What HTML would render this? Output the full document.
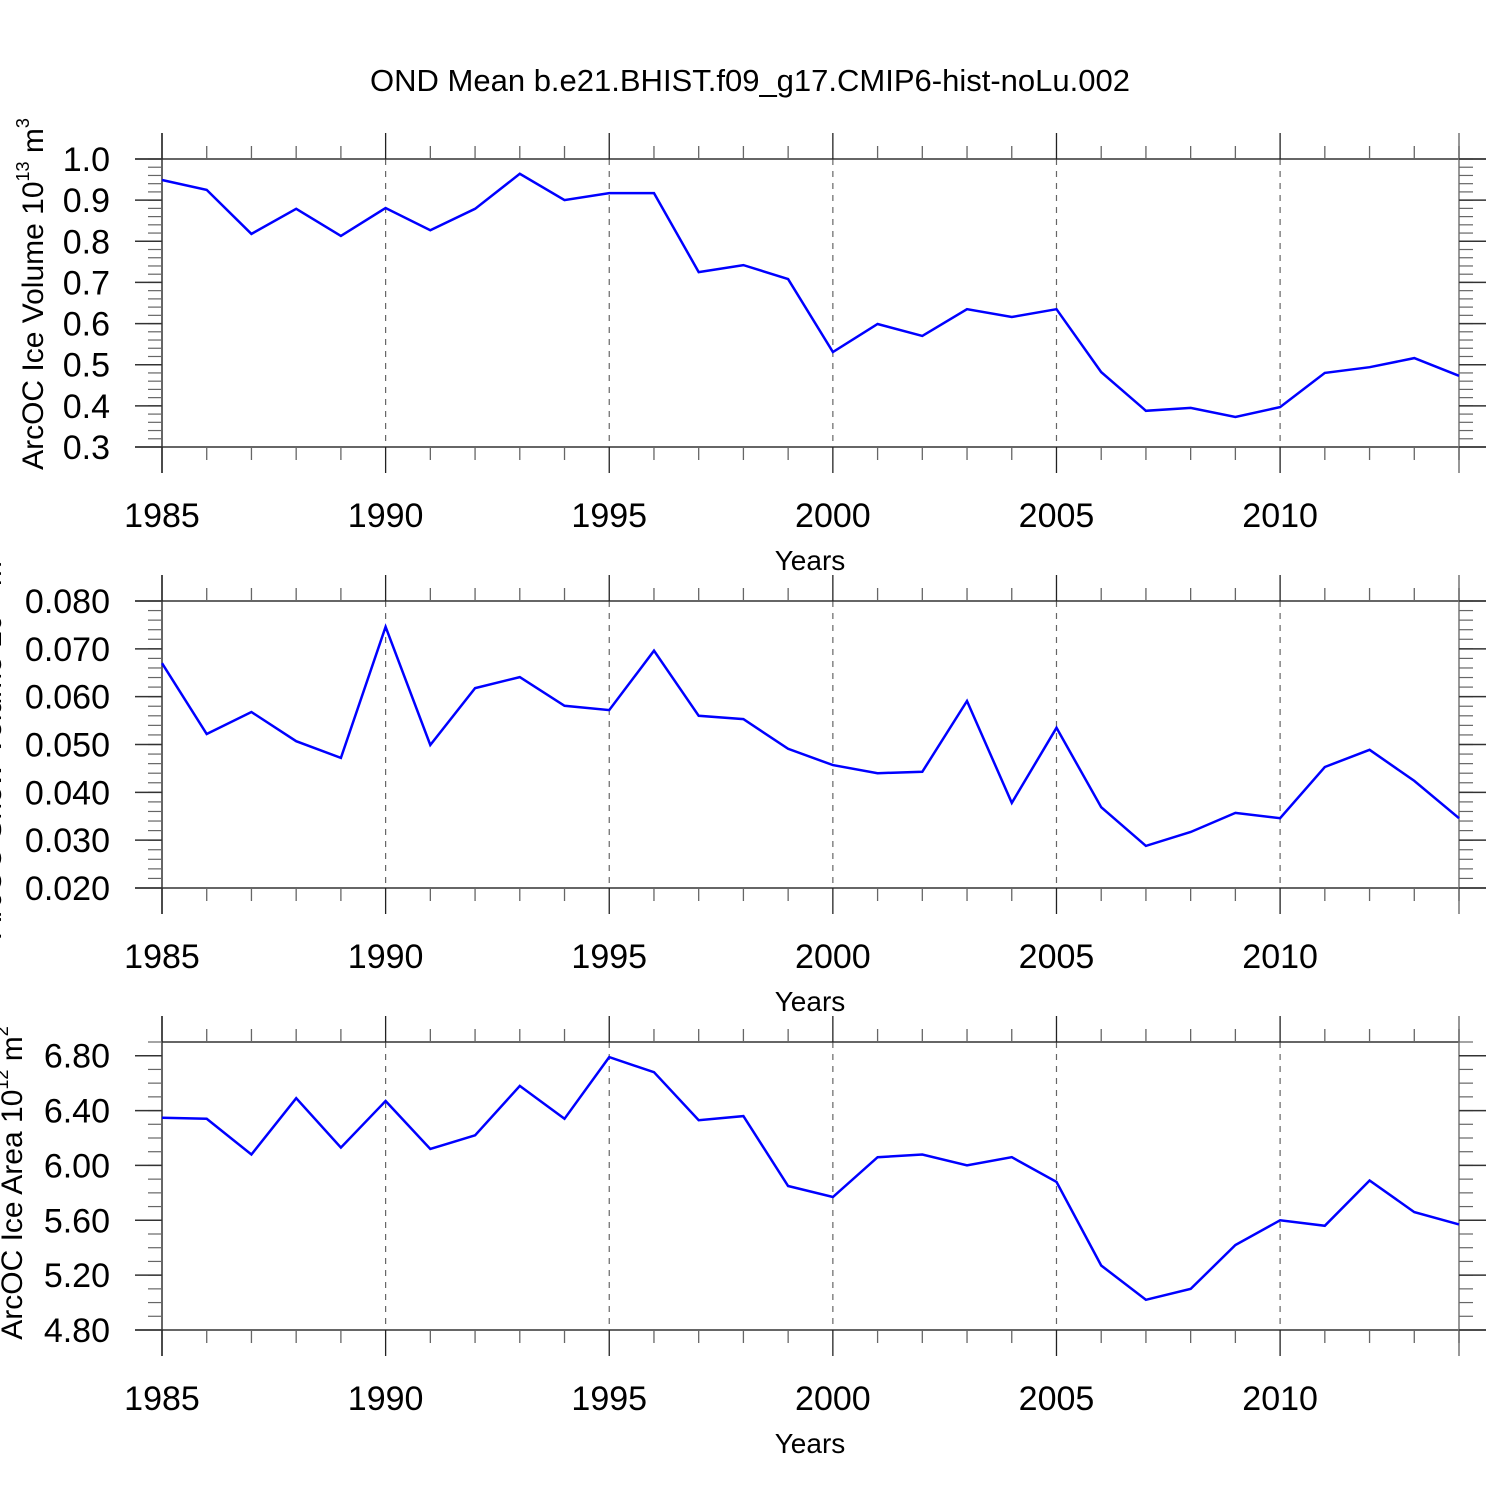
<!DOCTYPE html>
<html><head><meta charset="utf-8"><style>
html,body{margin:0;padding:0;background:#fff;}
svg{display:block;font-family:"Liberation Sans",sans-serif;}
</style></head><body>
<svg id="chart" width="1500" height="1500" viewBox="0 0 1500 1500" xmlns="http://www.w3.org/2000/svg">
<text x="750" y="91" font-size="31" text-anchor="middle">OND Mean b.e21.BHIST.f09_g17.CMIP6-hist-noLu.002</text>
</svg>
<script>
const years = [1985,1986,1987,1988,1989,1990,1991,1992,1993,1994,1995,1996,1997,1998,1999,2000,2001,2002,2003,2004,2005,2006,2007,2008,2009,2010,2011,2012,2013,2014];
const iceVolume = [0.949,0.925,0.818,0.879,0.813,0.881,0.827,0.879,0.964,0.900,0.917,0.917,0.725,0.742,0.708,0.531,0.599,0.570,0.635,0.616,0.635,0.482,0.388,0.395,0.373,0.397,0.480,0.494,0.516,0.473];
const snowVolume = [0.0670,0.0522,0.0568,0.0507,0.0472,0.0746,0.0499,0.0618,0.0641,0.0581,0.0572,0.0696,0.0560,0.0553,0.0491,0.0457,0.0440,0.0443,0.0591,0.0378,0.0535,0.0369,0.0288,0.0317,0.0357,0.0346,0.0453,0.0489,0.0424,0.0346];
const iceArea = [6.347,6.34,6.08,6.49,6.13,6.47,6.12,6.22,6.58,6.34,6.79,6.68,6.33,6.36,5.85,5.77,6.06,6.08,6.00,6.06,5.88,5.27,5.02,5.10,5.42,5.60,5.56,5.89,5.66,5.57];
const volTicks = ["0.3","0.4","0.5","0.6","0.7","0.8","0.9","1.0"];
const snowTicks = ["0.020","0.030","0.040","0.050","0.060","0.070","0.080"];
const areaTicks = ["4.80","5.20","5.60","6.00","6.40","6.80"];
const yearTicks = [1985,1990,1995,2000,2005,2010];

const NS="http://www.w3.org/2000/svg";
const svg=document.getElementById('chart');
const X0=162,X1=1459;
function xs(y){return X0+(y-1985)/(2014-1985)*(X1-X0);}
function mk(tag,attrs,parent){const e=document.createElementNS(NS,tag);for(const k in attrs)e.setAttribute(k,attrs[k]);(parent||svg).appendChild(e);return e;}

const panels=[
 {name:'ice-volume',top:159,bot:447,ymin:0.3,ymax:1.0,ticks:volTicks,minor:0.02,data:iceVolume,title:'ArcOC Ice Volume 10',sup:'13',unit:' m',usup:'3',tx:43,cyo:-9},
 {name:'snow-volume',top:601,bot:888,ymin:0.02,ymax:0.08,ticks:snowTicks,minor:0.002,data:snowVolume,title:'ArcOC Snow Volume 10',sup:'13',unit:' m',usup:'3',tx:1,cyo:0},
 {name:'ice-area',top:1042,bot:1330,ymin:4.8,ymax:6.9,ticks:areaTicks,minor:0.1,data:iceArea,title:'ArcOC Ice Area 10',sup:'12',unit:' m',usup:'2',tx:22,cyo:-3}
];
panels.forEach(p=>{
 const g=mk('g',{});
 
 
 const ys=v=>p.bot-(v-p.ymin)/(p.ymax-p.ymin)*(p.bot-p.top);
 const topMajor=Math.abs(parseFloat(p.ticks[p.ticks.length-1])-p.ymax)<1e-9;
 yearTicks.slice(1).forEach(y=>{
  const l=mk('line',{x1:xs(y),x2:xs(y),y1:p.top,y2:p.bot,stroke:'#666','stroke-width':1.2,'stroke-dasharray':'6,6'},g);
  
  
 });
 mk('line',{x1:topMajor?135:X0,x2:topMajor?1486:X1,y1:p.top,y2:p.top,stroke:'#333','stroke-width':1.5},g);
 mk('line',{x1:135,x2:1486,y1:p.bot,y2:p.bot,stroke:'#333','stroke-width':1.5},g);
 mk('line',{x1:X0,x2:X0,y1:p.top-26,y2:p.bot+26,stroke:'#333','stroke-width':1.5},g);
 mk('line',{x1:X1,x2:X1,y1:p.top-26,y2:p.bot+26,stroke:'#777','stroke-width':1.5},g);
 years.forEach(y=>{
  const maj=(y%5===0);
  const len=maj?26:13;
  mk('line',{x1:xs(y),x2:xs(y),y1:p.top-len,y2:p.top,stroke:maj?'#222':'#666','stroke-width':1.3},g);
  mk('line',{x1:xs(y),x2:xs(y),y1:p.bot,y2:p.bot+len,stroke:maj?'#222':'#666','stroke-width':1.3},g);
 });
 const n=Math.round((p.ymax-p.ymin)/p.minor);
 for(let i=1;i<=n;i++){
  const v=p.ymin+i*p.minor, y=ys(v);
  mk('line',{x1:X0-14,x2:X0,y1:y,y2:y,stroke:'#666','stroke-width':1.2},g);
  mk('line',{x1:X1,x2:X1+14,y1:y,y2:y,stroke:'#666','stroke-width':1.2},g);
 }
 p.ticks.forEach(t=>{
  const y=ys(parseFloat(t));
  mk('line',{x1:135,x2:X0,y1:y,y2:y,stroke:'#333','stroke-width':1.5},g);
  mk('line',{x1:X1,x2:1486,y1:y,y2:y,stroke:'#333','stroke-width':1.5},g);
  const tl=mk('text',{x:110,y:y+12,'font-size':34,'text-anchor':'end'},g);
  tl.textContent=t;
  
  
 });
 yearTicks.forEach(y=>{
  const tl=mk('text',{x:xs(y),y:p.bot+80,'font-size':34,'text-anchor':'middle'},g);
  tl.textContent=y;
  
  
 });
 const xt=mk('text',{x:810,y:p.bot+123,'font-size':28,'text-anchor':'middle'},g);
 xt.textContent='Years';
 
 
 const cy=(p.top+p.bot)/2+p.cyo;
 const yt=mk('text',{x:0,y:0,'font-size':30,'text-anchor':'middle',transform:`translate(${p.tx},${cy}) rotate(-90)`},g);
 
 
 const a=document.createElementNS(NS,'tspan');a.textContent=p.title;yt.appendChild(a);
 const b=document.createElementNS(NS,'tspan');b.setAttribute('dy','-14');b.setAttribute('font-size','18');b.textContent=p.sup;yt.appendChild(b);
 const c=document.createElementNS(NS,'tspan');c.setAttribute('dy','14');c.textContent=p.unit;yt.appendChild(c);
 const d=document.createElementNS(NS,'tspan');d.setAttribute('dy','-14');d.setAttribute('font-size','18');d.textContent=p.usup;yt.appendChild(d);
 const pts=p.data.map((v,i)=>xs(years[i]).toFixed(1)+','+ys(v).toFixed(1)).join(' ');
 const pl=mk('polyline',{points:pts,fill:'none',stroke:'#0000ff','stroke-width':2.5,'stroke-linejoin':'miter'},g);
 
 
});
</script>
</body></html>
